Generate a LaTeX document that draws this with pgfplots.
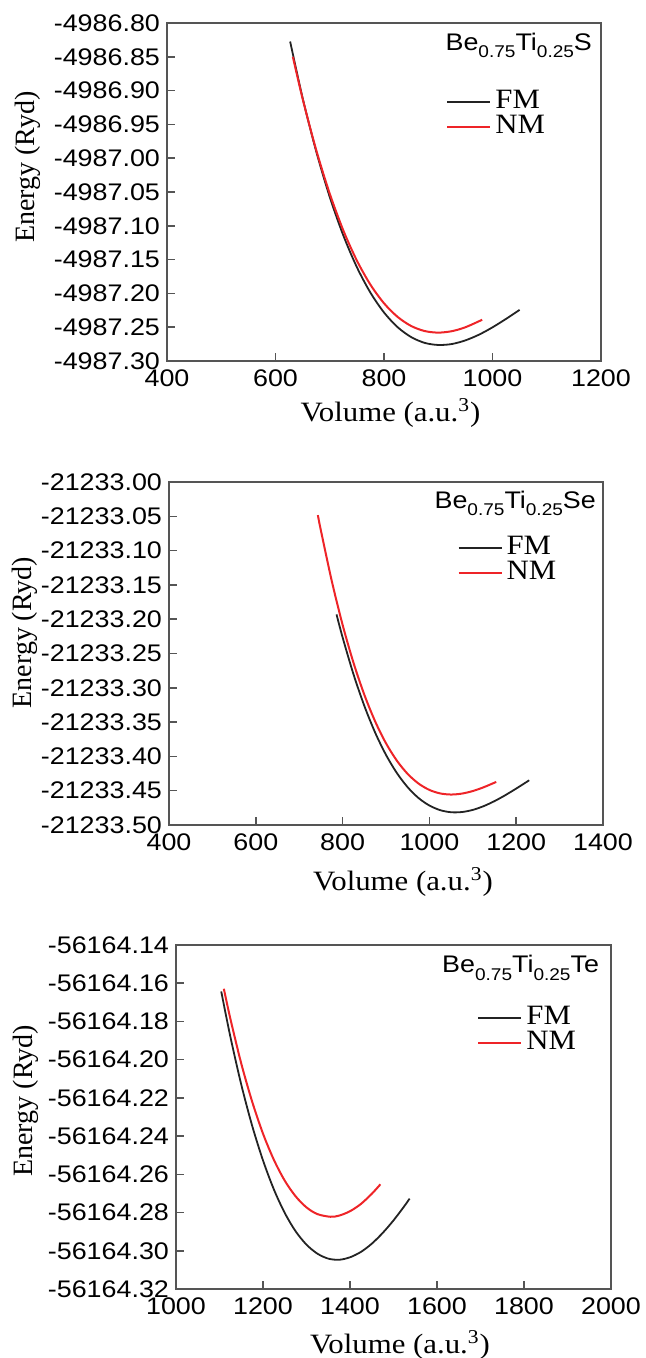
\documentclass[border=0pt]{standalone}
\usepackage{fontspec}
\setmainfont{Liberation Serif}[FakeStretch=1.1]
\setsansfont{Liberation Sans}[FakeStretch=1.12]
\newfontfamily\rotserif{Liberation Serif}
\usepackage{pgfplots}
\pgfplotsset{compat=1.18}
\definecolor{nmred}{RGB}{238,36,40}
\definecolor{fmblack}{RGB}{35,35,35}
\definecolor{frame}{RGB}{85,85,85}
\newcommand{\sub}[1]{\raisebox{-3.8pt}{\fontsize{8.5}{10}\selectfont #1}}
\newcommand{\compound}[1]{{\sffamily\fontsize{12}{14}\selectfont Be\sub{0.75}Ti\sub{0.25}#1}}
\pgfplotsset{
 eosstyle/.style={
  scale only axis, width=217pt,
  axis line style={draw=frame, line width=0.9pt},
  tick style={draw=frame, line width=0.8pt},
  tick align=inside, major tick length=4pt,
  xtick pos=bottom, ytick pos=left,
  /pgf/number format/assume math mode=true,
  tick label style={font=\sffamily\fontsize{12}{14}\selectfont},
  xticklabel style={/pgf/number format/1000 sep={}, yshift=-1pt},
  xlabel={Volume (a.u.\textsuperscript{3})},
  ylabel={Energy (Ryd)},
  xlabel style={font=\fontsize{14}{16}\selectfont, anchor=center},
  ylabel style={font=\rotserif\fontsize{14}{16}\selectfont, anchor=center},
  legend style={draw=none, fill=none, inner sep=0pt, outer sep=0pt,
    font=\fontsize{14}{16}\selectfont, row sep=0pt,
    nodes={inner sep=0pt, text height=9.3pt, text depth=3.2pt}},
  legend cell align=left,
  legend image code/.code={\draw[#1] (0pt,0pt) -- (21.5pt,0pt); \path (23.5pt,0pt);},
 },
 fm/.style={fmblack, line width=0.9pt, smooth},
 nm/.style={nmred, line width=1.0pt, smooth},
}
\begin{document}
\begin{tikzpicture}
\path[use as bounding box] (0,0) rectangle (323pt,-679pt);
% ---------- Panel 1: Be0.75Ti0.25S (energies plotted as E + 4987 Ryd)
\begin{axis}[eosstyle, at={(83.5pt,-11.5pt)}, anchor=north west, height=169pt,
  xmin=400, xmax=1200, xtick={400,600,800,1000,1200},
  ymin=-0.30, ymax=0.20,
  ytick={-0.30,-0.25,-0.20,-0.15,-0.10,-0.05,0,0.05,0.10,0.15,0.20},
  yticklabels={-4987.30,-4987.25,-4987.20,-4987.15,-4987.10,-4987.05,-4987.00,-4986.95,-4986.90,-4986.85,-4986.80},
  xlabel style={at={(axis description cs:0.515,0)}, yshift=-26pt},
  ylabel style={at={(axis description cs:-0.320,0.574)}},
  legend style={at={(rel axis cs:0.644,0.803)}, anchor=north west}]
\addplot[fm] coordinates {(627,0.1726) (650,0.0891) (675,0.0102) (700,-0.0574) (725,-0.1142) (750,-0.1612) (775,-0.1989) (800,-0.2282) (825,-0.2499) (850,-0.2646) (875,-0.2732) (900,-0.2763) (925,-0.2749) (950,-0.2695) (975,-0.2611) (1000,-0.2502) (1025,-0.2377) (1050,-0.2244)};
\addplot[nm] coordinates {(632,0.150) (650,0.0880) (675,0.0122) (700,-0.0525) (725,-0.1068) (750,-0.1514) (775,-0.1871) (800,-0.2146) (825,-0.2347) (850,-0.2482) (875,-0.2557) (900,-0.2580) (925,-0.2559) (950,-0.2501) (981,-0.2390)};
\legend{FM,NM}
\node[anchor=base west, inner sep=0pt] at (rel axis cs:0.641,0.920) {\compound{S}};
\end{axis}
% ---------- Panel 2: Be0.75Ti0.25Se (energies plotted as E + 21233 Ryd)
\begin{axis}[eosstyle, at={(84.5pt,-241pt)}, anchor=north west, height=171.5pt,
  xmin=400, xmax=1400, xtick={400,600,800,1000,1200,1400},
  ymin=-0.50, ymax=0,
  ytick={-0.50,-0.45,-0.40,-0.35,-0.30,-0.25,-0.20,-0.15,-0.10,-0.05,0},
  yticklabels={-21233.50,-21233.45,-21233.40,-21233.35,-21233.30,-21233.25,-21233.20,-21233.15,-21233.10,-21233.05,-21233.00},
  xlabel style={at={(axis description cs:0.539,0)}, yshift=-28.5pt},
  ylabel style={at={(axis description cs:-0.332,0.561)}},
  legend style={at={(rel axis cs:0.665,0.843)}, anchor=north west}]
\addplot[fm] coordinates {(786,-0.1930) (800,-0.2265) (825,-0.2801) (850,-0.3262) (875,-0.3653) (900,-0.3978) (925,-0.4242) (950,-0.4450) (975,-0.4607) (1000,-0.4716) (1025,-0.4784) (1050,-0.4814) (1075,-0.4811) (1100,-0.4780) (1125,-0.4725) (1150,-0.4652) (1175,-0.4565) (1200,-0.4469) (1230,-0.4348)};
\addplot[nm] coordinates {(743,-0.0483) (750,-0.0707) (775,-0.1442) (800,-0.2082) (825,-0.2633) (850,-0.3100) (875,-0.3490) (900,-0.3809) (925,-0.4062) (950,-0.4256) (975,-0.4396) (1000,-0.4489) (1025,-0.4540) (1050,-0.4556) (1075,-0.4542) (1100,-0.4505) (1125,-0.4450) (1154,-0.4372)};
\legend{FM,NM}
\node[anchor=base west, inner sep=0pt] at (rel axis cs:0.611,0.924) {\compound{Se}};
\end{axis}
% ---------- Panel 3: Be0.75Ti0.25Te (energies plotted as E + 56164 Ryd)
\begin{axis}[eosstyle, at={(88pt,-472.5pt)}, anchor=north west, height=172pt, width=217.5pt,
  xmin=1000, xmax=2000, xtick={1000,1200,1400,1600,1800,2000},
  ymin=-0.32, ymax=-0.14,
  ytick={-0.32,-0.30,-0.28,-0.26,-0.24,-0.22,-0.20,-0.18,-0.16,-0.14},
  yticklabels={-56164.32,-56164.30,-56164.28,-56164.26,-56164.24,-56164.22,-56164.20,-56164.18,-56164.16,-56164.14},
  xlabel style={at={(axis description cs:0.515,0)}, yshift=-28pt},
  ylabel style={at={(axis description cs:-0.345,0.547)}},
  legend style={at={(rel axis cs:0.693,0.824)}, anchor=north west}]
\addplot[fm] coordinates {(1104,-0.1643) (1125,-0.1880) (1150,-0.2130) (1175,-0.2345) (1200,-0.2527) (1225,-0.2679) (1250,-0.2802) (1275,-0.2898) (1300,-0.2968) (1325,-0.3015) (1350,-0.3041) (1375,-0.3047) (1400,-0.3034) (1425,-0.3006) (1450,-0.2963) (1475,-0.2907) (1500,-0.2841) (1525,-0.2766) (1537,-0.2727)};
\addplot[nm] coordinates {(1110,-0.1629) (1125,-0.1786) (1150,-0.2020) (1175,-0.2219) (1200,-0.2387) (1225,-0.2524) (1250,-0.2633) (1275,-0.2715) (1300,-0.2773) (1325,-0.2808) (1355,-0.2822) (1375,-0.2816) (1400,-0.2793) (1425,-0.2755) (1450,-0.2702) (1470,-0.2652)};
\legend{FM,NM}
\node[anchor=base west, inner sep=0pt] at (rel axis cs:0.611,0.919) {\compound{Te}};
\end{axis}
\end{tikzpicture}
\end{document}
